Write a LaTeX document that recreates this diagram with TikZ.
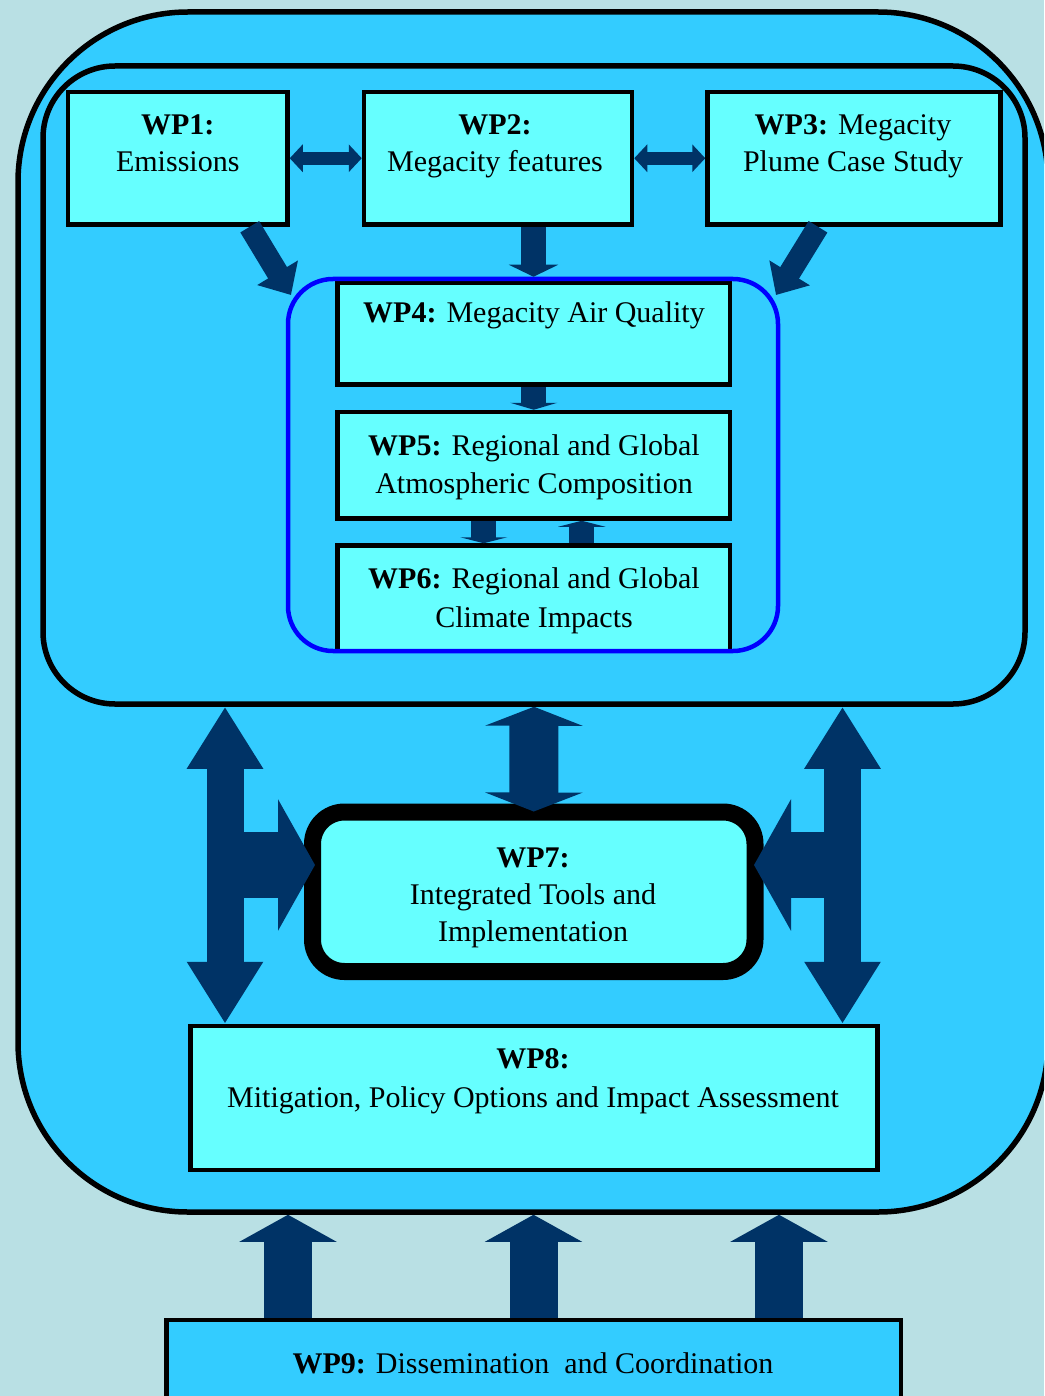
\documentclass[tikz,border=0pt]{standalone}
\usepackage{fontspec}
\setmainfont{Liberation Serif}
\usetikzlibrary{arrows.meta,calc}
\definecolor{bgc}{HTML}{B9E0E4}
\definecolor{midc}{HTML}{33CCFF}
\definecolor{boxc}{HTML}{66FFFF}
\definecolor{navy}{HTML}{003366}
\definecolor{grpblue}{HTML}{0000FF}
\tikzset{
  wpbox/.style={draw=black, fill=boxc, line width=4.5pt, rectangle, inner sep=0pt},
  bigframe/.style={draw=black, fill=midc, line width=5.5pt, rectangle, inner sep=0pt},
  lbl/.style={inner sep=0pt, anchor=base, font=\fontsize{30}{37}\selectfont},
  navyarrow/.style={draw=navy, line width=#1},
}
\begin{document}
\begin{tikzpicture}[x=1pt,y=-1pt]
\clip (0,0) rectangle (1044,1396);
\fill[bgc] (0,0) rectangle (1044,1396);

% frames
\node[bigframe, rounded corners=170pt, minimum width=1030pt, minimum height=1200pt] (outer) at (533,612) {};
\node[bigframe, rounded corners=72pt, minimum width=982pt, minimum height=638pt] (inner) at (534,385) {};
\node[fill=midc, rounded corners=45pt, minimum width=490pt, minimum height=372pt, inner sep=0pt, line width=4.5pt] (grp) at (533,465) {};

% top boxes
\node[wpbox, minimum width=219.5pt, minimum height=132.5pt] (wp1) at (177.75,158.25) {};
\node[wpbox, minimum width=268pt, minimum height=132.5pt] (wp2) at (498,158.25) {};
\node[wpbox, minimum width=293pt, minimum height=132.5pt] (wp3) at (854,158.25) {};

% group boxes
\node[wpbox, minimum width=392.5pt, minimum height=101.5pt] (wp4) at (533.75,333.75) {};
\node[wpbox, minimum width=392.5pt, minimum height=106.5pt] (wp5) at (533.75,465.25) {};
\node[wpbox, minimum width=392.5pt, minimum height=105.5pt] (wp6) at (533.75,598.25) {};
\draw[grpblue, line width=4.5pt, rounded corners=45pt] (grp.north west) ++(2.25pt,-2.25pt) rectangle ([xshift=-2.25pt,yshift=2.25pt]grp.south east);

% lower boxes
\node[wpbox, rounded corners=32pt, line width=17pt, minimum width=442.5pt, minimum height=159.5pt] (wp7) at (533.75,891.75) {};
\node[wpbox, minimum width=687pt, minimum height=144pt] (wp8) at (534,1098) {};
\node[bigframe, line width=4.5pt, minimum width=734.5pt, minimum height=100pt] (wp9) at (533.75,1370) {};

% named helper coordinates
\coordinate (t1) at (291,295);
\coordinate (t3) at (776,295);
\coordinate (c2) at (533.5,0);
\coordinate (lv) at (225,0);
\coordinate (rv) at (842.5,0);
\coordinate (lh) at (315,865);
\coordinate (rh) at (754,865);
\coordinate (b1) at (288,0);
\coordinate (b2) at (533.5,0);
\coordinate (b3) at (779,0);

% arrows in the top part
\draw[navyarrow=13pt, {Triangle[width=27pt,length=13pt]}-{Triangle[width=27pt,length=13pt]}] (wp1.east) -- (wp2.west);
\draw[navyarrow=13pt, {Triangle[width=27pt,length=13pt]}-{Triangle[width=27pt,length=13pt]}] (wp2.east) -- (wp3.west);
\draw[navyarrow=25pt, -{Triangle[width=49pt,length=12pt]}] (c2 |- wp2.south) -- (c2 |- grp.north);
\draw[navyarrow=22pt, -{Triangle[width=46pt,length=26pt]}] ([xshift=72pt]wp1.south) -- (t1);
\draw[navyarrow=22pt, -{Triangle[width=46pt,length=26pt]}] ([xshift=-36pt]wp3.south) -- (t3);
\draw[navyarrow=25pt, -{Triangle[width=47pt,length=7pt]}] (wp4.south) -- (wp5.north);
\draw[navyarrow=25pt, -{Triangle[width=47pt,length=6pt]}] ([xshift=-50pt]wp5.south) -- ([xshift=-50pt]wp6.north);
\draw[navyarrow=25pt, -{Triangle[width=47pt,length=6pt]}] ([xshift=48pt]wp6.north) -- ([xshift=48pt]wp5.south);

% arrows around WP7
\draw[navyarrow=49pt, {Triangle[width=97pt,length=19pt]}-{Triangle[width=97pt,length=19pt]}] (inner.south) -- ([yshift=-8pt]wp7.north);
\draw[navyarrow=37pt, {Triangle[width=72pt,length=62pt]}-{Triangle[width=72pt,length=62pt]}] (lv |- inner.south) -- (lv |- wp8.north);
\draw[navyarrow=37pt, {Triangle[width=72pt,length=62pt]}-{Triangle[width=72pt,length=62pt]}] (rv |- inner.south) -- (rv |- wp8.north);
\draw[navyarrow=66pt, -{Triangle[width=130pt,length=37pt]}] (lv |- lh) -- (lh);
\draw[navyarrow=66pt, -{Triangle[width=130pt,length=37pt]}] (rv |- rh) -- (rh);

% arrows from WP9
\draw[navyarrow=48pt, -{Triangle[width=96pt,length=27pt]}] (b1 |- wp9.north) -- (b1 |- outer.south);
\draw[navyarrow=48pt, -{Triangle[width=96pt,length=27pt]}] (b2 |- wp9.north) -- (b2 |- outer.south);
\draw[navyarrow=48pt, -{Triangle[width=96pt,length=27pt]}] (b3 |- wp9.north) -- (b3 |- outer.south);

% texts
\node[lbl] (wp1a) at (177.75,135) {\textbf{WP1:}};
\node[lbl] (wp1b) at (177.75,172) {Emissions};
\node[lbl] (wp2a) at (495,135) {\textbf{WP2:}};
\node[lbl] (wp2b) at (495,172) {Megacity features};
\node[lbl] (wp3a) at (853,135) {\textbf{WP3:} Megacity};
\node[lbl] (wp3b) at (853,172) {Plume Case Study};
\node[lbl] (wp4a) at (534,323) {\textbf{WP4:} Megacity Air Quality};
\node[lbl] (wp5a) at (534,455) {\textbf{WP5:} Regional and Global};
\node[lbl] (wp5b) at (534,493) {Atmospheric Composition};
\node[lbl] (wp6a) at (534,588) {\textbf{WP6:} Regional and Global};
\node[lbl] (wp6b) at (534,627) {Climate Impacts};
\node[lbl] (wp7a) at (533,867) {\textbf{WP7:}};
\node[lbl] (wp7b) at (533,904) {Integrated Tools and};
\node[lbl] (wp7c) at (533,941) {Implementation};
\node[lbl] (wp8a) at (533,1068) {\textbf{WP8:}};
\node[lbl] (wp8b) at (533,1107) {Mitigation, Policy Options and Impact Assessment};
\node[lbl] (wp9a) at (533,1373) {\textbf{WP9:} Dissemination\ \ and Coordination};
\end{tikzpicture}
\end{document}
